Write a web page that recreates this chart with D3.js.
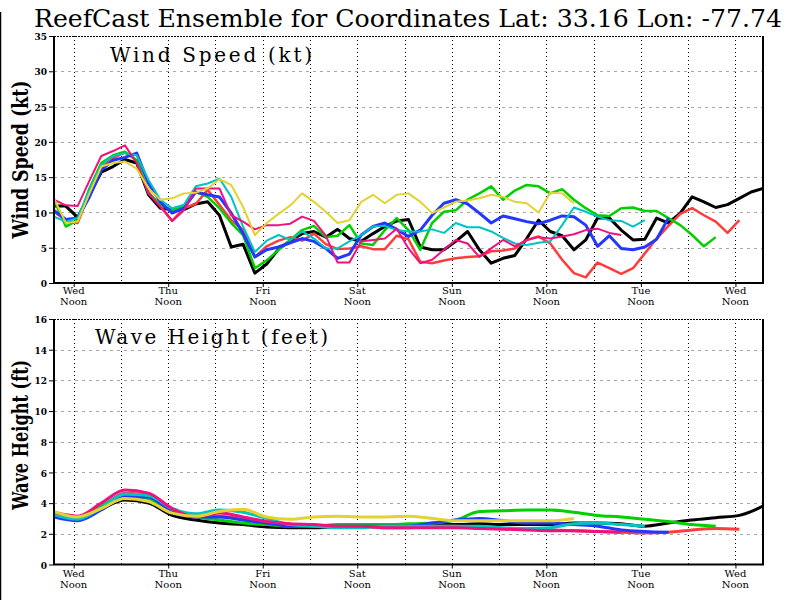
<!DOCTYPE html>
<html><head><meta charset="utf-8">
<script src="https://cdn.jsdelivr.net/npm/d3@7"></script>
<style>body{margin:0;background:#fff}svg{display:block}</style>
</head><body><svg id="c" width="800" height="600"></svg>
<script>
// ---------- data ----------
const dayLabels = ["Wed","Thu","Fri","Sat","Sun","Mon","Tue","Wed"];
const noonHours = [0,24,48,72,96,120,144,168];          // hours after first Wed noon
const gridHours = [0,12,24,36,48,60,72,84,96,108,120,132,144,156,168];
const windTicks = [0,5,10,15,20,25,30,35];
const waveTicks = [0,2,4,6,8,10,12,14,16];
const startHour = -5;   // first sample, hours relative to Wed noon
const windStep = 3;     // hours between wind samples
const waveStep = 6;     // hours between wave samples

const memberColors = ["#000000","#ff3b3b","#00d000","#2238ff","#00c4c4","#f0107e","#e4d22e"];

// wind speed (kt), 3-hourly
const windBlack = [10.9,10.9,9.3,12.5,15.7,16.5,17.5,17.0,12.5,10.6,10.4,10.4,11.2,11.5,9.6,5.1,5.5,1.4,2.7,4.8,6.0,7.0,7.3,6.5,7.6,6.3,5.9,7.0,8.0,8.8,9.0,5.1,4.7,4.7,5.9,7.3,4.7,2.8,3.5,3.9,6.3,8.9,7.3,6.7,4.7,6.1,9.2,9.2,7.5,6.1,6.2,9.2,8.5,9.9,12.2,11.5,10.7,11.1,12.0,12.9,13.4];
const windRed = [10.1,8.9,8.5,12.7,16.5,17.7,18.5,17.4,12.9,10.9,8.8,10.6,11.2,13.2,11.1,8.9,7.5,3.7,5.2,6.0,6.5,6.0,7.0,5.5,4.8,4.9,5.2,4.8,4.8,6.7,6.2,3.0,2.8,3.2,3.5,3.7,3.8,4.5,4.6,4.9,6.1,6.6,5.6,3.3,1.4,0.8,2.9,2.1,1.3,2.1,4.2,6.3,8.1,9.8,10.6,9.6,8.7,7.1,8.9];
const windGreen = [11.8,8.0,8.9,13.4,17.0,18.1,18.6,17.4,12.7,11.1,10.3,10.8,12.9,12.2,10.6,8.5,6.8,2.1,3.2,4.7,6.1,7.5,8.1,6.5,6.7,8.2,5.6,5.4,7.5,9.2,7.5,4.7,8.5,10.1,10.3,11.8,12.7,13.7,11.8,13.1,13.9,13.7,12.7,13.3,11.8,10.6,9.6,9.5,10.6,10.7,10.2,10.2,9.2,8.2,6.8,5.2,6.5];
const windBlue = [10.3,9.0,9.2,12.2,16.0,17.4,17.8,18.4,14.1,11.5,9.9,10.6,12.9,12.5,12.2,9.9,7.0,3.7,4.7,5.1,5.7,6.3,5.9,4.9,3.5,4.1,6.8,8.0,8.5,7.6,6.6,7.5,9.6,11.3,11.8,11.2,9.9,8.5,9.5,9.1,8.7,8.4,8.9,9.5,9.4,8.2,5.2,6.7,4.9,4.7,5.1,6.2,9.2];
const windCyan = [9.4,8.7,9.2,13.2,16.7,18.0,18.4,18.1,14.6,11.8,10.6,11.1,13.7,14.1,14.8,12.2,8.0,4.4,6.0,6.8,6.1,7.3,6.3,4.9,4.9,5.9,6.8,8.0,8.1,7.5,7.3,7.3,7.6,7.1,8.5,7.9,7.9,7.3,6.4,5.6,5.4,5.7,5.9,8.2,10.7,10.1,9.4,8.9,8.8,8.0,8.9];
const windMagenta = [11.8,11.0,10.9,14.5,18.0,18.7,19.5,17.0,12.7,10.8,8.8,10.3,13.4,13.4,13.4,9.6,8.7,7.6,8.2,8.2,8.4,9.4,8.8,6.7,2.9,2.9,5.9,6.1,6.3,7.7,4.9,2.8,3.3,4.7,6.1,5.6,3.7,4.9,6.1,5.2,6.1,6.5,6.3,6.6,6.9,7.5,7.7,7.1,6.8];
const windYellow = [12.0,8.5,8.7,12.7,16.5,17.0,17.2,16.2,13.4,11.8,12.0,12.7,12.8,13.4,14.7,13.9,10.8,6.8,8.5,9.8,11.0,12.7,11.5,10.1,8.5,8.9,11.5,12.5,11.3,12.5,12.7,11.5,9.9,10.7,11.5,11.7,12.0,12.5,12.2,11.5,11.3,10.0,12.8,12.7,11.3];

// wave height (ft), 6-hourly
const waveBlack = [3.2,2.9,3.6,4.2,4.0,3.2,2.9,2.7,2.6,2.45,2.4,2.4,2.45,2.5,2.5,2.55,2.6,2.6,2.65,2.6,2.6,2.6,2.7,2.7,2.65,2.5,2.7,2.9,3.05,3.2,3.8];
const waveRed = [3.3,3.05,3.75,4.65,4.55,3.55,3.1,3.15,2.95,2.7,2.6,2.5,2.5,2.5,2.4,2.4,2.5,2.5,2.4,2.35,2.3,2.25,2.2,2.15,2.1,2.05,2.1,2.25,2.35,2.3];
const waveGreen = [3.3,3.0,3.8,4.5,4.3,3.4,3.1,2.9,2.7,2.6,2.5,2.5,2.6,2.6,2.6,2.65,2.7,2.9,3.45,3.5,3.55,3.55,3.4,3.2,3.1,2.95,2.8,2.6,2.5];
const waveBlue = [3.1,2.85,3.55,4.4,4.4,3.4,3.1,3.1,2.9,2.7,2.5,2.5,2.5,2.5,2.5,2.5,2.7,2.9,3.0,2.85,2.7,2.7,2.6,2.5,2.25,2.15,2.1];
const waveCyan = [3.25,2.95,3.7,4.6,4.5,3.65,3.3,3.55,3.4,3.0,2.6,2.5,2.4,2.4,2.5,2.5,2.5,2.5,2.5,2.4,2.35,2.4,2.65,2.7,2.6,2.5];
const waveMagenta = [3.4,3.15,4.0,4.85,4.65,3.65,3.1,3.35,3.1,2.8,2.65,2.6,2.5,2.5,2.4,2.4,2.4,2.4,2.35,2.3,2.25,2.2,2.2,2.15,2.1];
const waveYellow = [3.45,3.1,3.65,4.3,4.1,3.35,3.15,3.45,3.6,3.1,2.95,3.1,3.15,3.1,3.1,3.15,3.0,2.85,2.85,2.85,2.85,2.85,3.0];

// ---------- drawing ----------
const svg = d3.select("#c");
svg.append("rect").attr("width",800).attr("height",600).attr("fill","#fff");
svg.append("line").attr("x1",0.5).attr("x2",0.5).attr("y1",12).attr("y2",600)
  .attr("stroke","#000").attr("stroke-width",1.5);

svg.append("text").attr("transform","translate(408,27) scale(1,1.2)")
  .attr("text-anchor","middle")
  .attr("font-family","DejaVu Serif").attr("font-size",20)
  .attr("textLength",748).attr("lengthAdjust","spacingAndGlyphs")
  .text("ReefCast Ensemble for Coordinates Lat: 33.16 Lon: -77.74");

const x = d3.scaleLinear().domain([-5,175]).range([54,763]);

function panel(cfg){
  const y = d3.scaleLinear().domain([0,cfg.ticks[cfg.ticks.length-1]]).range([cfg.bottom,cfg.top]);
  const g = svg.append("g");
  const id = "clip"+cfg.name;
  svg.append("clipPath").attr("id",id).append("rect")
    .attr("x",x.range()[0]).attr("y",cfg.top)
    .attr("width",x.range()[1]-x.range()[0]).attr("height",cfg.bottom-cfg.top);

  // horizontal grid
  g.selectAll(".hg").data(cfg.ticks.slice(1,-1)).join("line")
    .attr("x1",x.range()[0]).attr("x2",x.range()[1])
    .attr("y1",d=>Math.round(y(d))+0.5).attr("y2",d=>Math.round(y(d))+0.5)
    .attr("stroke","#a8a8a8").attr("stroke-dasharray","3,4");
  // vertical grid
  g.selectAll(".vg").data(gridHours).join("line")
    .attr("x1",d=>Math.round(x(d))+0.5).attr("x2",d=>Math.round(x(d))+0.5)
    .attr("y1",cfg.top).attr("y2",cfg.bottom)
    .attr("stroke","#000").attr("stroke-dasharray","1,3");

  // panel title
  g.append("text").attr("x",cfg.titleX).attr("y",cfg.titleY)
    .attr("font-family","DejaVu Serif").attr("font-size",20)
    .attr("textLength",cfg.titleLen).attr("lengthAdjust","spacing")
    .text(cfg.title);

  // lines
  const lg = g.append("g").attr("clip-path",`url(#${id})`);
  const line = d3.line().x((d,i)=>x(startHour+cfg.step*i)).y(d=>y(d)).curve(cfg.curve);
  cfg.series.forEach((s,i)=>{
    lg.append("path").datum(s).attr("d",line).attr("fill","none")
      .attr("stroke",memberColors[i]).attr("stroke-width",cfg.widths[i])
      .attr("stroke-linejoin","round");
  });

  // frame
  const [x0,x1] = x.range();
  g.append("line").attr("x1",x0).attr("x2",x1).attr("y1",cfg.top+0.5).attr("y2",cfg.top+0.5)
    .attr("stroke","#000").attr("stroke-dasharray","2,1");
  g.append("path").attr("d",`M${x0},${cfg.top}V${cfg.bottom}H${x1}V${cfg.top}`)
    .attr("fill","none").attr("stroke","#000").attr("stroke-width",2);

  // y axis ticks & labels
  const ya = d3.axisLeft(y).tickValues(cfg.ticks).tickSize(4).tickFormat(d3.format("d"));
  const yg = g.append("g").attr("transform",`translate(${x0-1},0)`).call(ya);
  yg.select(".domain").remove();
  yg.selectAll("text").attr("font-family","DejaVu Serif").attr("font-weight","bold")
    .attr("font-size",9).attr("x",-6).attr("dy","0.4em");

  // x axis ticks & labels
  const xa = d3.axisBottom(x).tickValues(noonHours).tickSize(4).tickFormat("");
  const xg = g.append("g").attr("transform",`translate(0,${cfg.bottom})`).call(xa);
  xg.select(".domain").remove();
  g.selectAll(".xd").data(noonHours).join("text")
    .attr("x",d=>x(d)).attr("y",cfg.bottom+cfg.lab1).attr("text-anchor","middle")
    .attr("font-family","DejaVu Serif").attr("font-size",10)
    .text((d,i)=>dayLabels[i]);
  g.selectAll(".xn").data(noonHours).join("text")
    .attr("x",d=>x(d)).attr("y",cfg.bottom+cfg.lab2).attr("text-anchor","middle")
    .attr("font-family","DejaVu Serif").attr("font-size",10)
    .text("Noon");

  // y axis title
  svg.append("text").attr("transform",`translate(${cfg.ytX},${(cfg.top+cfg.bottom)/2+cfg.ytDy}) rotate(-90)`)
    .attr("text-anchor","middle").attr("font-family","DejaVu Serif").attr("font-weight","bold")
    .attr("font-size",22).attr("textLength",cfg.ytLen).attr("lengthAdjust","spacingAndGlyphs")
    .text(cfg.ytitle);
}

panel({name:"wind", top:36, bottom:283, ticks:windTicks, step:windStep, curve:d3.curveLinear,
  series:[windBlack,windRed,windGreen,windBlue,windCyan,windMagenta,windYellow],
  widths:[3,2.5,2.5,3,2,2,2],
  title:"Wind Speed (kt)", titleX:110, titleY:62, titleLen:202,
  ytitle:"Wind Speed (kt)", ytX:28, ytDy:0, ytLen:158, lab1:10.5, lab2:22});

panel({name:"wave", top:319, bottom:564.5, ticks:waveTicks, step:waveStep, curve:d3.curveMonotoneX,
  series:[waveBlack,waveRed,waveGreen,waveBlue,waveCyan,waveMagenta,waveYellow],
  widths:[3,3,3,3,3,3,3],
  title:"Wave Height (feet)", titleX:95, titleY:344, titleLen:233,
  ytitle:"Wave Height (ft)", ytX:28, ytDy:-7, ytLen:150, lab1:12, lab2:23.5});
</script>
</body></html>
